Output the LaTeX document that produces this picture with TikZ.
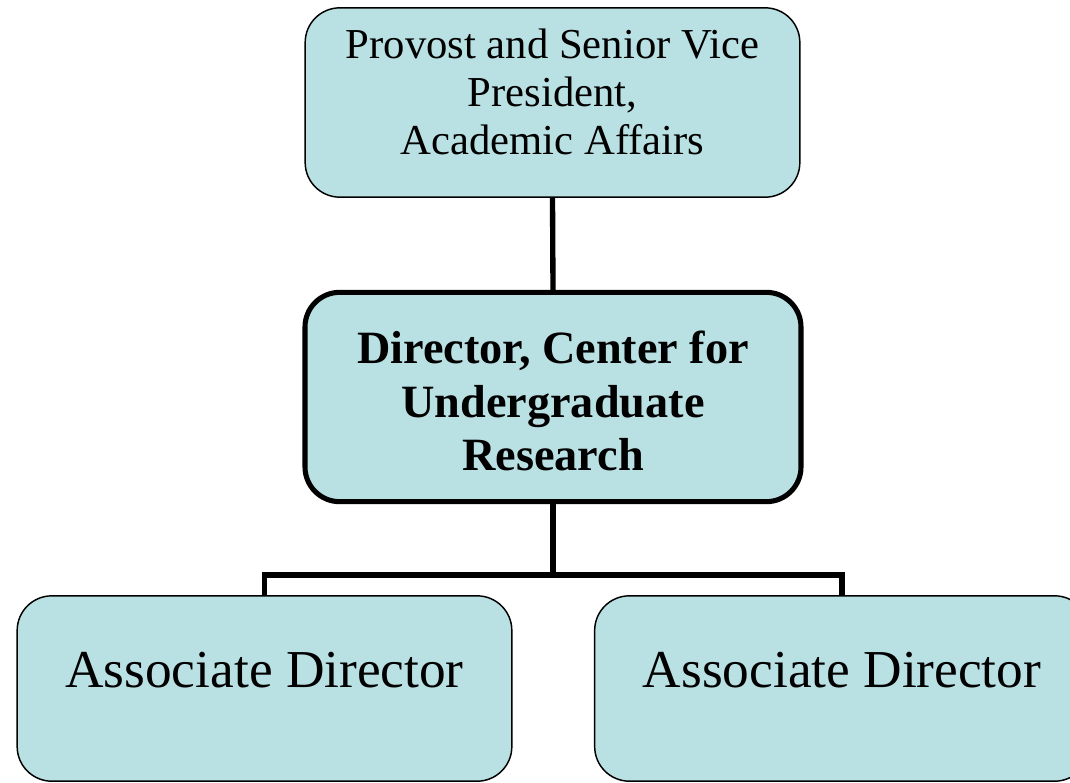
\documentclass[tikz,border=0pt]{standalone}
\usepackage{fontspec}
\setmainfont{Liberation Serif}
\definecolor{boxfill}{RGB}{185,224,227}
\begin{document}
\begin{tikzpicture}[x=0.75pt,y=-0.75pt,
  box/.style={draw=black,fill=boxfill,rounded corners=26pt,line width=1.1pt,inner sep=0pt},
  bigbox/.style={box,line width=3.8pt},
  conn/.style={draw=black,line width=4pt,line join=miter},
  toptxt/.style={align=center,font=\fontsize{32}{36}\selectfont,inner sep=0pt},
  midtxt/.style={align=center,font=\fontsize{34.7}{40}\selectfont\bfseries,inner sep=0pt},
  bottxt/.style={align=center,font=\fontsize{40}{48}\selectfont,inner sep=0pt}]
\useasboundingbox (0,0) rectangle (1070,782);
\begin{scope}
\clip (0,0) rectangle (1070,782);
\node[box,minimum width=371pt,minimum height=142pt] (top) at (552.5,102.5) {};
\node[bigbox,minimum width=372pt,minimum height=157pt] (mid) at (553,397) {};
\node[box,minimum width=371pt,minimum height=139pt] (left) at (264.5,688.5) {};
\node[box,minimum width=371pt,minimum height=139pt] (right) at (842,688.5) {};
\coordinate (split) at (553,575);
\draw[conn] (top.south) -- (mid.north);
\draw[conn] (mid.south) -- (split);
\draw[conn] (left.north) |- (split) -| (right.north);
\node[toptxt] (toplabel) at (552.5,92) {Provost and Senior Vice\\President,\\Academic Affairs};
\node[midtxt] (midlabel) at (553,401) {Director, Center for\\Undergraduate\\Research};
\node[bottxt] (leftlabel) at (264.5,670) {Associate Director};
\node[bottxt] (rightlabel) at (842,670) {Associate Director};
\end{scope}
\end{tikzpicture}
\end{document}
